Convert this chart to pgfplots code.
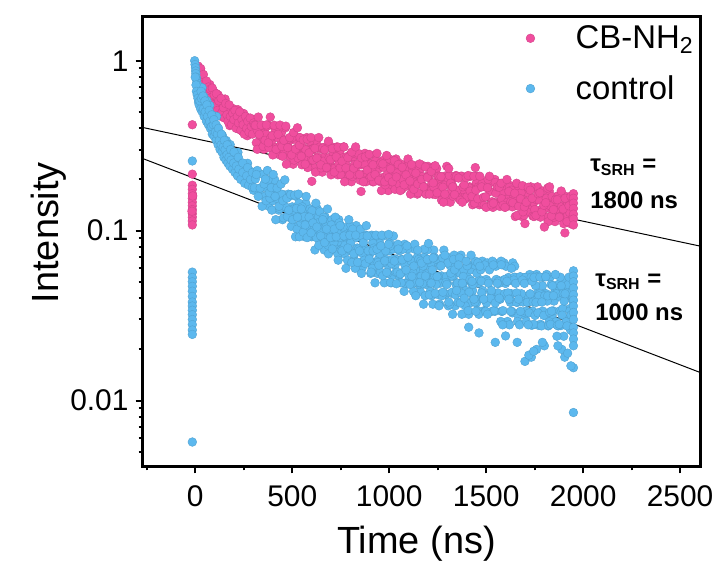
\documentclass[border=0pt]{standalone}
\usepackage{fontspec}
\setmainfont{Liberation Sans}
\usepackage{pgfplots}
\pgfplotsset{compat=1.18}
\definecolor{pinkc}{RGB}{240,78,158}
\definecolor{bluec}{RGB}{92,184,238}
\begin{document}
\begin{tikzpicture}
\begin{axis}[
 name=ax,
 scale only axis, width=280pt, height=225.5pt,
 xmin=-272, xmax=2605, ymode=log, ymin=0.0041, ymax=1.81,
 axis line style={line width=1.5pt},
 xtick={0,500,1000,1500,2000,2500},
 xticklabels={0,500,1000,1500,2000,2500},
 minor xtick={-250,250,750,1250,1750,2250},
 ytick={0.01,0.1,1}, yticklabels={0.01,0.1,1},
 minor ytick={0.005,0.006,0.007,0.008,0.009,0.02,0.03,0.04,0.05,0.06,0.07,0.08,0.09,0.2,0.3,0.4,0.5,0.6,0.7,0.8,0.9},
 tick pos=left,
 tick align=outside,
 major tick length=3.5pt, minor tick length=2pt,
 tick style={line width=1pt, black},
 ticklabel style={font=\fontsize{15}{17}\selectfont},
 xticklabel style={yshift=-2.5pt},
 xlabel={Time (ns)}, ylabel={Intensity},
 label style={font=\fontsize{19}{22}\selectfont},
 xlabel style={at={(axis description cs:0.491,-0.193)}, anchor=base},
 ylabel style={at={(axis description cs:-0.168,0.52)}, anchor=center},
 legend style={draw=none, fill=none, font=\fontsize{16.5}{18}\selectfont,
   at={(axis description cs:0.676,1.0)}, anchor=north west, row sep=8pt,
   /tikz/every odd column/.append style={column sep=18.5pt}},
 legend cell align=left,
]
\addplot[only marks, mark=*, mark size=2.2pt, mark options={fill=pinkc, draw=pinkc!88!black, line width=0.2pt}] table {
-15 0.42
-15 0.215
-15 0.185
-15 0.175
-15 0.165
-15 0.155
-15 0.147
-15 0.14
-15 0.133
-15 0.126
-15 0.12
-15 0.114
-15 0.108
-13 0.16
-17 0.13
15 0.93
18 0.88
21 0.90
24 0.84
27 0.81
30 0.86
33 0.78
36 0.80
40 0.74
44 0.77
48 0.70
52 0.73
56 0.67
60 0.71
65 0.683
70 0.573
75 0.725
80 0.601
85 0.662
90 0.525
95 0.599
100 0.650
106 0.527
112 0.552
118 0.630
124 0.510
130 0.554
136 0.469
142 0.575
148 0.487
154 0.595
160 0.500
166 0.450
172 0.522
178 0.415
184 0.519
190 0.454
196 0.522
202 0.419
208 0.467
214 0.423
220 0.515
226 0.396
232 0.464
238 0.454
244 0.383
250 0.489
256 0.408
262 0.454
268 0.362
274 0.416
280 0.456
286 0.374
292 0.394
298 0.451
20 0.82
28 0.90
35 0.72
42 0.83
50 0.66
58 0.76
63 0.62
68 0.70
73 0.60
78 0.68
83 0.56
88 0.69
93 0.55
98 0.63
103 0.54
109 0.64
115 0.51
121 0.58
127 0.48
133 0.60
139 0.50
145 0.53
151 0.46
157 0.56
163 0.48
169 0.44
175 0.55
181 0.47
187 0.42
193 0.49
199 0.45
205 0.51
211 0.40
217 0.47
223 0.43
229 0.50
235 0.39
241 0.45
247 0.42
253 0.37
259 0.47
265 0.40
271 0.44
277 0.38
283 0.46
289 0.41
295 0.37
301 0.43
320 0.39
340 0.35
350 0.33
360 0.40
305 0.419
315 0.329
325 0.466
335 0.362
345 0.417
355 0.301
365 0.369
375 0.418
385 0.313
395 0.340
405 0.412
415 0.308
425 0.353
435 0.279
445 0.378
455 0.302
465 0.403
475 0.318
485 0.274
495 0.342
505 0.246
515 0.345
525 0.287
535 0.353
545 0.260
555 0.305
565 0.267
575 0.353
585 0.244
595 0.306
605 0.299
615 0.235
625 0.336
635 0.262
645 0.304
655 0.221
665 0.272
675 0.310
685 0.234
695 0.256
705 0.311
715 0.234
725 0.269
735 0.213
745 0.290
755 0.233
765 0.311
775 0.247
785 0.214
795 0.268
805 0.194
815 0.272
825 0.227
835 0.281
845 0.208
855 0.244
865 0.214
875 0.285
885 0.198
895 0.250
905 0.247
915 0.194
925 0.277
935 0.205
945 0.231
955 0.194
965 0.258
975 0.207
985 0.245
995 0.172
1005 0.236
1015 0.186
1025 0.213
1035 0.264
1045 0.196
1055 0.241
1065 0.175
1075 0.218
1085 0.188
1095 0.247
1105 0.200
1115 0.181
1125 0.237
1135 0.206
1145 0.164
1155 0.223
1165 0.191
1175 0.241
1185 0.167
1195 0.209
1205 0.208
1215 0.180
1225 0.164
1235 0.239
1245 0.232
1255 0.190
1265 0.181
1275 0.163
1285 0.209
1295 0.204
1305 0.151
1315 0.147
1325 0.186
1335 0.205
1345 0.211
1355 0.171
1365 0.159
1375 0.209
1385 0.173
1395 0.154
1405 0.209
1415 0.181
1425 0.157
1435 0.158
1445 0.179
1455 0.209
1465 0.142
1475 0.145
1485 0.192
1495 0.181
1505 0.180
1515 0.190
1525 0.141
1535 0.137
1545 0.200
1555 0.170
1565 0.148
1575 0.146
1585 0.166
1595 0.190
1605 0.139
1615 0.154
1625 0.184
1635 0.138
1645 0.147
1655 0.180
1665 0.173
1675 0.155
1685 0.121
1695 0.123
1705 0.165
1715 0.167
1725 0.129
1735 0.141
1745 0.146
1755 0.178
1765 0.181
1775 0.122
1785 0.133
1795 0.152
1805 0.152
1815 0.120
1825 0.171
1835 0.134
1845 0.155
1855 0.113
1865 0.140
1875 0.159
1885 0.120
1895 0.132
1905 0.160
1915 0.121
1925 0.139
1935 0.110
1945 0.150
310 0.417
320 0.301
330 0.369
340 0.418
350 0.313
360 0.340
370 0.412
380 0.308
390 0.353
400 0.279
410 0.378
420 0.302
430 0.403
440 0.318
450 0.274
460 0.342
470 0.246
480 0.345
490 0.287
500 0.353
510 0.260
520 0.305
530 0.267
540 0.353
550 0.244
560 0.306
570 0.299
580 0.235
590 0.336
600 0.262
610 0.304
620 0.221
630 0.272
640 0.310
650 0.234
660 0.256
670 0.311
680 0.234
690 0.269
700 0.213
710 0.290
720 0.233
730 0.311
740 0.247
750 0.214
760 0.268
770 0.194
780 0.272
790 0.227
800 0.281
810 0.208
820 0.244
830 0.214
840 0.285
850 0.198
860 0.250
870 0.247
880 0.194
890 0.277
900 0.205
910 0.231
920 0.194
930 0.258
940 0.207
950 0.245
960 0.172
970 0.236
980 0.186
990 0.213
1000 0.264
1010 0.196
1020 0.241
1030 0.175
1040 0.218
1050 0.188
1060 0.247
1070 0.200
1080 0.181
1090 0.237
1100 0.206
1110 0.164
1120 0.223
1130 0.191
1140 0.241
1150 0.167
1160 0.209
1170 0.208
1180 0.180
1190 0.164
1200 0.239
1210 0.232
1220 0.190
1230 0.181
1240 0.163
1250 0.209
1260 0.204
1270 0.151
1280 0.147
1290 0.186
1300 0.205
1310 0.211
1320 0.171
1330 0.159
1340 0.209
1350 0.173
1360 0.154
1370 0.209
1380 0.181
1390 0.157
1400 0.158
1410 0.179
1420 0.209
1430 0.142
1440 0.145
1450 0.192
1460 0.181
1470 0.180
1480 0.190
1490 0.141
1500 0.137
1510 0.200
1520 0.170
1530 0.148
1540 0.146
1550 0.166
1560 0.190
1570 0.139
1580 0.154
1590 0.184
1600 0.138
1610 0.147
1620 0.180
1630 0.173
1640 0.155
1650 0.121
1660 0.123
1670 0.165
1680 0.167
1690 0.129
1700 0.141
1710 0.146
1720 0.178
1730 0.181
1740 0.122
1750 0.133
1760 0.152
1770 0.152
1780 0.120
1790 0.171
1800 0.134
1810 0.155
1820 0.113
1830 0.140
1840 0.159
1850 0.120
1860 0.132
1870 0.160
1880 0.121
1890 0.139
1900 0.110
1910 0.150
1920 0.145
1930 0.128
1940 0.160
367 0.419
377 0.329
387 0.466
397 0.362
407 0.417
417 0.301
427 0.369
437 0.418
447 0.313
457 0.340
467 0.412
477 0.308
487 0.353
497 0.279
507 0.378
517 0.302
527 0.403
537 0.318
547 0.274
557 0.342
567 0.246
577 0.345
587 0.287
597 0.353
607 0.260
617 0.305
627 0.267
637 0.353
647 0.244
657 0.306
667 0.299
677 0.235
687 0.336
697 0.262
707 0.304
717 0.221
727 0.272
737 0.310
747 0.234
757 0.256
767 0.311
777 0.234
787 0.269
797 0.213
807 0.290
817 0.233
827 0.311
837 0.247
847 0.214
857 0.268
867 0.194
877 0.272
887 0.227
897 0.281
907 0.208
917 0.244
927 0.214
937 0.285
947 0.198
957 0.250
967 0.247
977 0.194
987 0.277
997 0.205
1007 0.231
1017 0.194
1027 0.258
1037 0.207
1047 0.245
1057 0.172
1067 0.236
1077 0.186
1087 0.213
1097 0.264
1107 0.196
1117 0.241
1127 0.175
1137 0.218
1147 0.188
1157 0.247
1167 0.200
1177 0.181
1187 0.237
1197 0.206
1207 0.164
1217 0.223
1227 0.191
1237 0.241
1247 0.167
1257 0.209
1267 0.208
1277 0.180
1287 0.164
1297 0.239
1307 0.232
1317 0.190
1327 0.181
1337 0.163
1347 0.209
1357 0.204
1367 0.151
1377 0.147
1387 0.186
1397 0.205
1407 0.211
1417 0.171
1427 0.159
1437 0.209
1447 0.173
1457 0.154
1467 0.209
1477 0.181
1487 0.157
1497 0.158
1507 0.179
1517 0.209
1527 0.142
1537 0.145
1547 0.192
1557 0.181
1567 0.180
1577 0.190
1587 0.141
1597 0.137
1607 0.200
1617 0.170
1627 0.148
1637 0.146
1647 0.166
1657 0.190
1667 0.139
1677 0.154
1687 0.184
1697 0.138
1707 0.147
1717 0.180
1727 0.173
1737 0.155
1747 0.121
1757 0.123
1767 0.165
1777 0.167
1787 0.129
1797 0.141
1807 0.146
1817 0.178
1827 0.181
1837 0.122
1847 0.133
1857 0.152
1867 0.152
1877 0.120
1887 0.171
1897 0.134
1907 0.155
1917 0.113
1927 0.140
1937 0.159
1947 0.120
1950 0.165
1950 0.155
1950 0.145
1950 0.135
1950 0.125
1950 0.117
1950 0.108
1444 0.235
1115 0.245
601 0.195
855 0.170
1906 0.097
1700 0.110
1800 0.105
};
\addlegendentry{CB-NH\textsubscript{2}}
\addplot[only marks, mark=*, mark size=2.2pt, mark options={fill=bluec, draw=bluec!88!black, line width=0.2pt}] table {
-15 0.257
-15 0.057
-15 0.053
-15 0.050
-15 0.047
-15 0.044
-15 0.041
-15 0.038
-15 0.036
-15 0.034
-15 0.032
-15 0.030
-15 0.028
-15 0.026
-15 0.0245
-15 0.0057
-3 1.00
-1 0.95
1 0.91
2 0.87
3 0.84
5 0.80
7 0.77
9 0.74
12 0.72
15 0.69
18 0.67
21 0.64
25 0.667
30 0.554
35 0.694
40 0.561
45 0.612
50 0.476
55 0.544
60 0.582
65 0.466
70 0.487
75 0.546
80 0.436
85 0.465
90 0.387
95 0.474
100 0.400
110 0.470
120 0.380
130 0.327
140 0.363
150 0.277
160 0.339
170 0.290
180 0.321
190 0.252
200 0.271
210 0.243
220 0.289
230 0.213
240 0.247
250 0.238
260 0.197
270 0.249
280 0.203
290 0.222
300 0.173
0 0.80
4 0.72
6 0.66
10 0.63
14 0.60
17 0.57
20 0.55
24 0.58
28 0.52
32 0.60
36 0.50
42 0.52
46 0.47
52 0.50
58 0.44
63 0.47
68 0.42
74 0.44
78 0.40
84 0.41
88 0.37
93 0.42
97 0.36
104 0.38
108 0.34
114 0.37
118 0.32
124 0.34
128 0.30
134 0.32
138 0.29
144 0.31
148 0.27
154 0.30
158 0.26
164 0.28
168 0.25
174 0.27
178 0.24
185 0.26
192 0.23
198 0.25
205 0.22
212 0.24
218 0.21
225 0.23
235 0.20
245 0.22
255 0.19
265 0.21
275 0.185
285 0.20
295 0.18
30 0.66
40 0.62
50 0.58
60 0.55
72 0.51
85 0.48
96 0.45
108 0.42
120 0.40
135 0.37
150 0.34
165 0.32
182 0.30
200 0.29
222 0.27
245 0.25
270 0.235
295 0.22
310 0.201
320 0.226
330 0.167
340 0.179
350 0.214
360 0.159
370 0.178
380 0.139
390 0.188
400 0.150
410 0.199
420 0.155
430 0.132
440 0.163
450 0.116
460 0.162
470 0.135
480 0.164
490 0.119
500 0.138
510 0.121
520 0.159
530 0.106
540 0.134
550 0.131
560 0.102
570 0.145
580 0.111
590 0.129
600 0.092
610 0.120
620 0.092
630 0.134
640 0.098
650 0.108
660 0.091
670 0.120
680 0.097
690 0.111
700 0.077
710 0.105
720 0.082
730 0.093
740 0.116
750 0.085
760 0.102
770 0.073
780 0.091
790 0.078
800 0.102
810 0.092
820 0.067
830 0.107
840 0.076
850 0.093
860 0.060
870 0.079
880 0.094
890 0.065
900 0.073
910 0.094
920 0.065
930 0.076
940 0.056
950 0.085
960 0.064
970 0.093
980 0.068
990 0.057
1000 0.076
1010 0.0493
1020 0.0778
1030 0.0626
1040 0.0814
1050 0.0543
1060 0.0664
1070 0.0568
1080 0.0831
1090 0.0495
1100 0.0677
1110 0.0662
1120 0.0487
1130 0.0779
1140 0.0556
1150 0.0673
1160 0.0439
1170 0.0587
1180 0.0697
1190 0.0482
1200 0.0539
1210 0.0619
1220 0.0414
1230 0.0768
1240 0.0495
1250 0.0644
1260 0.0369
1270 0.0541
1280 0.0677
1290 0.0419
1300 0.0491
1310 0.0691
1320 0.0428
1330 0.0537
1340 0.0361
1350 0.0621
1360 0.0434
1370 0.0717
1380 0.0482
1390 0.0380
1400 0.0562
1410 0.0322
1420 0.0588
1430 0.0444
1440 0.0628
1450 0.0375
1460 0.0490
1470 0.0400
1480 0.0661
1490 0.0338
1500 0.0516
1510 0.0503
1520 0.0395
1530 0.0335
1540 0.0646
1550 0.0617
1560 0.0430
1570 0.0395
1580 0.0335
1590 0.0512
1600 0.0489
1610 0.0292
1620 0.0279
1630 0.0425
1640 0.0503
1650 0.0530
1660 0.0378
1670 0.0328
1680 0.0532
1690 0.0380
1700 0.0317
1710 0.0535
1720 0.0413
1730 0.0331
1740 0.0336
1750 0.0414
1760 0.0552
1770 0.0277
1780 0.0281
1790 0.0474
1800 0.0427
1810 0.0425
1820 0.0275
1830 0.0532
1840 0.0318
1850 0.0385
1860 0.0291
1870 0.0481
1880 0.0337
1890 0.0440
1900 0.0239
1910 0.0411
1920 0.0276
1930 0.0347
1940 0.0510
1945 0.0305
305 0.179
315 0.214
325 0.159
335 0.178
345 0.139
355 0.188
365 0.150
375 0.199
385 0.155
395 0.132
405 0.163
415 0.116
425 0.162
435 0.135
445 0.164
455 0.119
465 0.138
475 0.121
485 0.159
495 0.106
505 0.134
515 0.131
525 0.102
535 0.145
545 0.111
555 0.129
565 0.092
575 0.120
585 0.092
595 0.134
605 0.098
615 0.108
625 0.091
635 0.120
645 0.097
655 0.111
665 0.077
675 0.105
685 0.082
695 0.093
705 0.116
715 0.085
725 0.102
735 0.073
745 0.091
755 0.078
765 0.102
775 0.092
785 0.067
795 0.107
805 0.076
815 0.093
825 0.060
835 0.079
845 0.094
855 0.065
865 0.073
875 0.094
885 0.065
895 0.076
905 0.056
915 0.085
925 0.064
935 0.093
945 0.068
955 0.057
965 0.076
975 0.0493
985 0.0778
995 0.0626
1005 0.0814
1015 0.0543
1025 0.0664
1035 0.0568
1045 0.0831
1055 0.0495
1065 0.0677
1075 0.0662
1085 0.0487
1095 0.0779
1105 0.0556
1115 0.0673
1125 0.0439
1135 0.0587
1145 0.0697
1155 0.0482
1165 0.0539
1175 0.0619
1185 0.0414
1195 0.0768
1205 0.0495
1215 0.0644
1225 0.0369
1235 0.0541
1245 0.0677
1255 0.0419
1265 0.0491
1275 0.0691
1285 0.0428
1295 0.0537
1305 0.0361
1315 0.0621
1325 0.0434
1335 0.0717
1345 0.0482
1355 0.0380
1365 0.0562
1375 0.0322
1385 0.0588
1395 0.0444
1405 0.0628
1415 0.0375
1425 0.0490
1435 0.0400
1445 0.0661
1455 0.0338
1465 0.0516
1475 0.0503
1485 0.0395
1495 0.0335
1505 0.0646
1515 0.0617
1525 0.0430
1535 0.0395
1545 0.0335
1555 0.0512
1565 0.0489
1575 0.0292
1585 0.0279
1595 0.0425
1605 0.0503
1615 0.0530
1625 0.0378
1635 0.0328
1645 0.0532
1655 0.0380
1665 0.0317
1675 0.0535
1685 0.0413
1695 0.0331
1705 0.0336
1715 0.0414
1725 0.0552
1735 0.0277
1745 0.0281
1755 0.0474
1765 0.0427
1775 0.0425
1785 0.0275
1795 0.0532
1805 0.0318
1815 0.0385
1825 0.0291
1835 0.0481
1845 0.0337
1855 0.0440
1865 0.0239
1875 0.0411
1885 0.0276
1895 0.0347
1905 0.0510
1915 0.030
1925 0.045
1935 0.026
1945 0.040
362 0.201
372 0.226
382 0.167
392 0.179
402 0.214
412 0.159
422 0.178
432 0.139
442 0.188
452 0.150
462 0.199
472 0.155
482 0.132
492 0.163
502 0.116
512 0.162
522 0.135
532 0.164
542 0.119
552 0.138
562 0.121
572 0.159
582 0.106
592 0.134
602 0.131
612 0.102
622 0.145
632 0.111
642 0.129
652 0.092
662 0.120
672 0.092
682 0.134
692 0.098
702 0.108
712 0.091
722 0.120
732 0.097
742 0.111
752 0.077
762 0.105
772 0.082
782 0.093
792 0.116
802 0.085
812 0.102
822 0.073
832 0.091
842 0.078
852 0.102
862 0.092
872 0.067
882 0.107
892 0.076
902 0.093
912 0.060
922 0.079
932 0.094
942 0.065
952 0.073
962 0.094
972 0.065
982 0.076
992 0.056
1002 0.085
1012 0.064
1022 0.093
1032 0.068
1042 0.057
1052 0.076
1062 0.0493
1072 0.0778
1082 0.0626
1092 0.0814
1102 0.0543
1112 0.0664
1122 0.0568
1132 0.0831
1142 0.0495
1152 0.0677
1162 0.0662
1172 0.0487
1182 0.0779
1192 0.0556
1202 0.0673
1212 0.0439
1222 0.0587
1232 0.0697
1242 0.0482
1252 0.0539
1262 0.0619
1272 0.0414
1282 0.0768
1292 0.0495
1302 0.0644
1312 0.0369
1322 0.0541
1332 0.0677
1342 0.0419
1352 0.0491
1362 0.0691
1372 0.0428
1382 0.0537
1392 0.0361
1402 0.0621
1412 0.0434
1422 0.0717
1432 0.0482
1442 0.0380
1452 0.0562
1462 0.0322
1472 0.0588
1482 0.0444
1492 0.0628
1502 0.0375
1512 0.0490
1522 0.0400
1532 0.0661
1542 0.0338
1552 0.0516
1562 0.0503
1572 0.0395
1582 0.0335
1592 0.0646
1602 0.0617
1612 0.0430
1622 0.0395
1632 0.0335
1642 0.0512
1652 0.0489
1662 0.0292
1672 0.0279
1682 0.0425
1692 0.0503
1702 0.0530
1712 0.0378
1722 0.0328
1732 0.0532
1742 0.0380
1752 0.0317
1762 0.0535
1772 0.0413
1782 0.0331
1792 0.0336
1802 0.0414
1812 0.0552
1822 0.0277
1832 0.0281
1842 0.0474
1852 0.0427
1862 0.0425
1872 0.0275
1882 0.0532
1892 0.0318
1902 0.0385
1912 0.0291
1922 0.0481
1932 0.0337
1942 0.0440
517 0.092
527 0.120
537 0.092
547 0.134
557 0.098
567 0.108
577 0.091
587 0.120
597 0.097
607 0.111
617 0.077
627 0.105
637 0.082
647 0.093
657 0.116
667 0.085
677 0.102
687 0.073
697 0.091
707 0.078
717 0.102
727 0.092
737 0.067
747 0.107
757 0.076
767 0.093
777 0.060
787 0.079
797 0.094
807 0.065
817 0.073
827 0.094
837 0.065
847 0.076
857 0.056
867 0.085
877 0.064
887 0.093
897 0.068
907 0.057
917 0.076
927 0.0493
937 0.0778
947 0.0626
957 0.0814
967 0.0543
977 0.0664
987 0.0568
997 0.0831
1007 0.0495
1017 0.0677
1027 0.0662
1037 0.0487
1047 0.0779
1057 0.0556
1067 0.0673
1077 0.0439
1087 0.0587
1097 0.0697
1107 0.0482
1117 0.0539
1127 0.0619
1137 0.0414
1147 0.0768
1157 0.0495
1167 0.0644
1177 0.0369
1187 0.0541
1197 0.0677
1207 0.0419
1217 0.0491
1227 0.0691
1237 0.0428
1247 0.0537
1257 0.0361
1267 0.0621
1277 0.0434
1287 0.0717
1297 0.0482
1307 0.0380
1317 0.0562
1327 0.0322
1337 0.0588
1347 0.0444
1357 0.0628
1367 0.0375
1377 0.0490
1387 0.0400
1397 0.0661
1407 0.0338
1417 0.0516
1427 0.0503
1437 0.0395
1447 0.0335
1457 0.0646
1467 0.0617
1477 0.0430
1487 0.0395
1497 0.0335
1507 0.0322
1517 0.0588
1527 0.0444
1537 0.0628
1547 0.0375
1557 0.0490
1567 0.0400
1577 0.0661
1587 0.0338
1597 0.0516
1607 0.0503
1617 0.0395
1627 0.0335
1637 0.0646
1647 0.0617
1657 0.0430
1667 0.0395
1677 0.0335
1687 0.0512
1697 0.0489
1707 0.0292
1717 0.0279
1727 0.0425
1737 0.0503
1747 0.0530
1757 0.0378
1767 0.0328
1777 0.0532
1787 0.0380
1797 0.0317
1807 0.0535
1817 0.0413
1827 0.0331
1837 0.0336
1847 0.0414
1857 0.0552
1867 0.0277
1877 0.0281
1887 0.0474
1897 0.0427
1907 0.0425
1917 0.0275
1927 0.0532
1937 0.0318
1947 0.0385
1950 0.058
1950 0.054
1950 0.050
1950 0.046
1950 0.042
1950 0.039
1950 0.036
1950 0.033
1950 0.030
1950 0.027
1950 0.025
1950 0.023
1950 0.021
1950 0.0156
1950 0.0085
1700 0.017
1733 0.018
1760 0.020
1800 0.021
1890 0.020
1905 0.018
1937 0.016
1547 0.022
1463 0.025
1410 0.027
1578 0.063
1630 0.060
1203 0.084
997 0.095
1720 0.0185
1745 0.0195
1790 0.022
1870 0.021
1920 0.019
1660 0.022
1600 0.024
};
\addlegendentry{control}
\addplot[black, line width=0.5pt, forget plot] coordinates {(-272,0.405) (2605,0.081)};
\addplot[black, line width=0.5pt, forget plot] coordinates {(-272,0.266) (2605,0.0146)};
\node[anchor=west, inner sep=0pt, font=\fontsize{12}{14}\selectfont\bfseries] at (axis cs:2035,0.236) {τ\textsubscript{SRH} =};
\node[anchor=west, inner sep=0pt, font=\fontsize{12}{14}\selectfont\bfseries] at (axis cs:2035,0.151) {1800 ns};
\node[anchor=west, inner sep=0pt, font=\fontsize{12}{14}\selectfont\bfseries] at (axis cs:2061,0.050) {τ\textsubscript{SRH} =};
\node[anchor=west, inner sep=0pt, font=\fontsize{12}{14}\selectfont\bfseries] at (axis cs:2061,0.0333) {1000 ns};
\end{axis}
\path (ax.south west) ++(-71.5pt,-48.5pt);
\path (ax.north east) ++(8.5pt,8.5pt);
\end{tikzpicture}
\end{document}
